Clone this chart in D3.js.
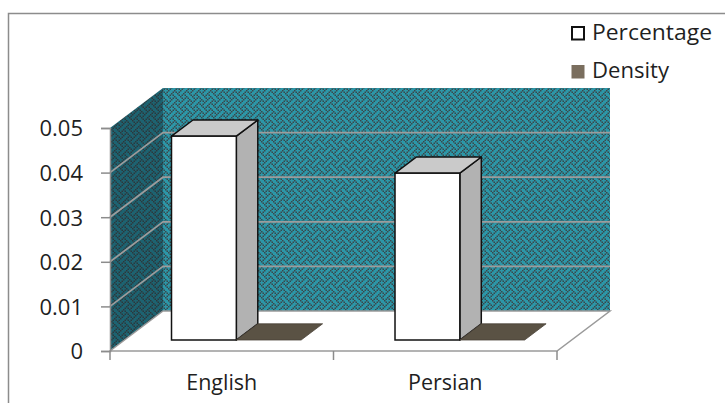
<!DOCTYPE html>
<html>
<head>
<meta charset="utf-8">
<script src="https://cdn.jsdelivr.net/npm/d3@7"></script>
<style>
  html, body { margin: 0; padding: 0; background: #fff; }
  svg { display: block; }
  text { font-family: "Open Sans", sans-serif; fill: #1f1f1f; }
</style>
</head>
<body>
<svg id="chart" width="725" height="403"></svg>
<script>
// Chart data
const categories = ["English", "Persian"];
const seriesNames = ["Percentage", "Density"];
const percentage = [0.0457, 0.0374];
const density = [0, 0];
const yTicks = [0, 0.01, 0.02, 0.03, 0.04, 0.05];

const seriesValues = [percentage, density];
const seriesFill = { Percentage: "#ffffff", Density: "#7a6e5e" };

const svg = d3.select("#chart");
const W = 725, H = 403;

// Plot geometry (front plane) and oblique depth offset
const plotLeft = 110, plotRight = 557, plotBottom = 351, plotTop = 128;
const depthX = 53, depthY = -40;
const zFront = 0.275, zBack = 0.68;

const x = d3.scaleBand().domain(categories).range([plotLeft, plotRight]);
const y = d3.scaleLinear().domain([0, 0.05]).range([plotBottom, plotTop]);

const P = (px, v, z) => [px + z * depthX, y(v) + z * depthY];
const poly = pts => "M" + pts.map(p => p.join(",")).join("L") + "Z";

// Weave texture for the walls
const defs = svg.append("defs");
const weave = [
  "10001000",
  "01010100",
  "00100010",
  "01000101",
  "10001000",
  "00010101",
  "00100010",
  "01010001"
];
function makePattern(id, light, dark) {
  const pat = defs.append("pattern")
    .attr("id", id).attr("patternUnits", "userSpaceOnUse")
    .attr("width", 8).attr("height", 8)
    .attr("patternTransform", "scale(1.5)");
  pat.append("rect").attr("width", 8).attr("height", 8).attr("fill", light);
  weave.forEach((row, r) => {
    row.split("").forEach((b, c) => {
      if (b === "1") pat.append("rect")
        .attr("x", c).attr("y", r)
        .attr("width", 1).attr("height", 1).attr("fill", dark);
    });
  });
}
makePattern("wallBack", "#2c97a8", "#3a474b");
makePattern("wallSide", "#1d6371", "#2c383c");

// Outer chart frame
svg.append("rect")
  .attr("x", 8.5).attr("y", 13.5).attr("width", W + 20).attr("height", H + 20)
  .attr("fill", "none").attr("stroke", "#8c8c8c").attr("stroke-width", 1.5);

const vMax = y.domain()[1];

// Walls and floor
svg.append("path")
  .attr("d", poly([P(plotLeft, vMax, 1), P(plotRight, vMax, 1), P(plotRight, 0, 1), P(plotLeft, 0, 1)]))
  .attr("fill", "url(#wallBack)");
svg.append("path")
  .attr("d", poly([P(plotLeft, vMax, 0), P(plotLeft, vMax, 1), P(plotLeft, 0, 1), P(plotLeft, 0, 0)]))
  .attr("fill", "url(#wallSide)");
svg.append("path")
  .attr("d", poly([P(plotLeft, 0, 0), P(plotRight, 0, 0), P(plotRight, 0, 1), P(plotLeft, 0, 1)]))
  .attr("fill", "#ffffff").attr("stroke", "#9a9a9a").attr("stroke-width", 1.5);

// Gridlines across the side and back walls
svg.append("g").selectAll("path")
  .data(yTicks.filter(t => t > 0 && t < vMax))
  .join("path")
  .attr("d", t => "M" + [P(plotLeft, t, 0), P(plotLeft, t, 1), P(plotRight, t, 1)].map(p => p.join(",")).join("L"))
  .attr("fill", "none").attr("stroke", "#9c9c9c").attr("stroke-width", 1.8);

// Bars
const inner = d3.scaleBand().domain(seriesNames).range([0, x.bandwidth() * 0.58]);
const groupOffset = (x.bandwidth() - x.bandwidth() * 0.58) / 2;

const bars = [];
categories.forEach((c, i) => {
  seriesNames.forEach((s, j) => {
    bars.push({ cat: c, series: s, value: seriesValues[j][i],
      x0: x(c) + groupOffset + inner(s), x1: x(c) + groupOffset + inner(s) + inner.bandwidth() });
  });
});

const barG = svg.append("g");
bars.forEach(b => {
  const g = barG.append("g");
  if (b.value > 0) {
    // right side
    g.append("path")
      .attr("d", poly([P(b.x1, b.value, zFront), P(b.x1, b.value, zBack), P(b.x1, 0, zBack), P(b.x1, 0, zFront)]))
      .attr("fill", "#b2b2b2").attr("stroke", "#111").attr("stroke-width", 1.5).attr("stroke-linejoin", "round");
    // top
    g.append("path")
      .attr("d", poly([P(b.x0, b.value, zFront), P(b.x1, b.value, zFront), P(b.x1, b.value, zBack), P(b.x0, b.value, zBack)]))
      .attr("fill", "#cacaca").attr("stroke", "#111").attr("stroke-width", 1.5).attr("stroke-linejoin", "round");
    // front
    const f0 = P(b.x0, b.value, zFront), f1 = P(b.x1, 0, zFront);
    g.append("rect")
      .attr("x", f0[0]).attr("y", f0[1]).attr("width", f1[0] - f0[0]).attr("height", f1[1] - f0[1])
      .attr("fill", seriesFill[b.series]).attr("stroke", "#111").attr("stroke-width", 1.5);
  } else {
    // zero-height bar: only its flat top is visible
    g.append("path")
      .attr("d", poly([P(b.x0, 0, zFront), P(b.x1, 0, zFront), P(b.x1, 0, zBack), P(b.x0, 0, zBack)]))
      .attr("fill", "#5a5244").attr("stroke", "#4a4338").attr("stroke-width", 0.8);
  }
});

// Axes
const yAxis = svg.append("g")
  .attr("transform", `translate(${plotLeft},0)`)
  .call(d3.axisLeft(y).tickValues(yTicks).tickSize(9).tickPadding(18)
    .tickFormat(d => d === 0 ? "0" : d3.format(".2f")(d)));
yAxis.select(".domain").attr("stroke", "#8c8c8c").attr("stroke-width", 1.5);
yAxis.selectAll(".tick line").attr("stroke", "#8c8c8c").attr("stroke-width", 1.5);
yAxis.selectAll(".tick text").attr("font-size", 22).attr("font-family", "Open Sans, sans-serif")
  .attr("fill", "#1f1f1f").attr("dy", "0.36em");

const xAxis = svg.append("g")
  .attr("transform", `translate(0,${plotBottom})`)
  .call(d3.axisBottom(x).tickSize(0).tickPadding(20));
xAxis.select(".domain").remove();
xAxis.selectAll(".tick text").attr("font-size", 21.5).attr("font-family", "Open Sans, sans-serif")
  .attr("fill", "#1f1f1f").attr("dy", "0.88em");
// category separators
svg.append("g").selectAll("line")
  .data([plotLeft, ...categories.map(c => x(c) + x.bandwidth())])
  .join("line")
  .attr("x1", d => d).attr("x2", d => d).attr("y1", plotBottom).attr("y2", plotBottom + 9)
  .attr("stroke", "#8c8c8c").attr("stroke-width", 1.5);

// Legend
const legend = svg.append("g").attr("transform", "translate(571,26)");
seriesNames.forEach((s, i) => {
  const g = legend.append("g").attr("transform", `translate(0,${i * 38.5})`);
  if (s === "Percentage") {
    g.append("rect").attr("x", 1).attr("y", 1).attr("width", 12).attr("height", 12.5)
      .attr("fill", seriesFill[s]).attr("stroke", "#111").attr("stroke-width", 2);
  } else {
    g.append("rect").attr("x", 0.5).attr("y", 0.5).attr("width", 13).attr("height", 13.5)
      .attr("fill", seriesFill[s]);
  }
  g.append("text").attr("x", 21).attr("y", 13.5).attr("font-size", 22.5)
    .attr("textLength", s === "Percentage" ? 120 : 77).attr("lengthAdjust", "spacingAndGlyphs")
    .text(s);
});
</script>
</body>
</html>
